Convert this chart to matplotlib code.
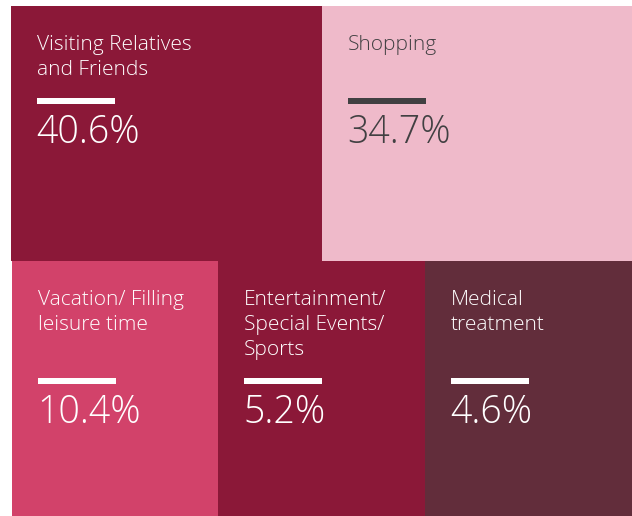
import matplotlib
matplotlib.use("Agg")
import matplotlib.pyplot as plt
from matplotlib.patches import Rectangle

# Purpose of visit and share of visitors
categories = [
    "Visiting Relatives\nand Friends",
    "Shopping",
    "Vacation/ Filling\nleisure time",
    "Entertainment/\nSpecial Events/\nSports",
    "Medical\ntreatment",
]
shares = [40.6, 34.7, 10.4, 5.2, 4.6]
tile_colors = ["#8B1838", "#EFBACA", "#D2426A", "#8B1838", "#622D3B"]
text_colors = ["#FFFFFF", "#414042", "#FFFFFF", "#FFFFFF", "#FFFFFF"]

# Tile grid in pixel units: (left, top, width, height, title lines reserved)
W, H = 632, 516
tiles = [
    (11, 6, 311, 255, 2),
    (322, 6, 310, 255, 2),
    (12, 261, 206, 255, 3),
    (218, 261, 207, 255, 3),
    (425, 261, 207, 255, 3),
]

plt.rcParams["font.family"] = ["Open Sans", "DejaVu Sans"]

fig = plt.figure(figsize=(W / 100, H / 100), dpi=100)
ax = fig.add_axes([0, 0, 1, 1])
ax.set_xlim(0, W)
ax.set_ylim(H, 0)
ax.axis("off")

LINE = 25
for (x, y, w, h, nres), label, share, fc, tc in zip(tiles, categories, shares,
                                                    tile_colors, text_colors):
    ax.add_patch(Rectangle((x, y), w, h, facecolor=fc, edgecolor="none"))
    pad = 26
    for i, line in enumerate(label.split("\n")):
        ax.text(x + pad, y + 44 + LINE * i, line, color=tc, fontsize=15,
                fontweight="light", ha="left", va="baseline")
    bar_y = y + 44 + LINE * (nres - 1) + 23
    ax.add_patch(Rectangle((x + pad, bar_y), 78, 6, facecolor=tc,
                           edgecolor="none"))
    ax.text(x + pad - 1, bar_y + 45, f"{share}%", color=tc, fontsize=27,
            fontweight="light", ha="left", va="baseline")

fig.savefig("out.png", dpi=100)
